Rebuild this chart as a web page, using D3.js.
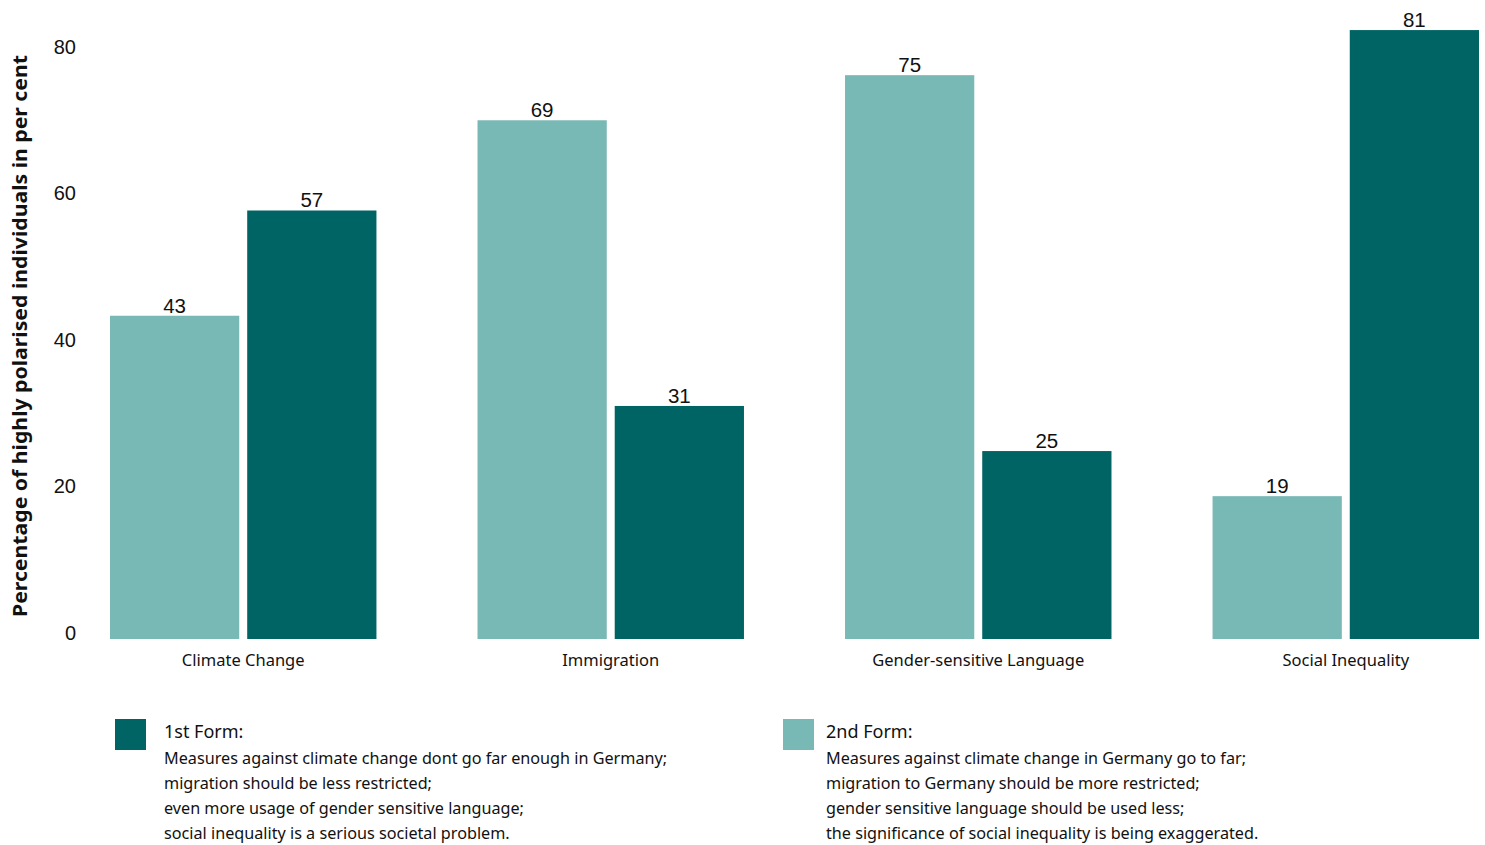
<!DOCTYPE html>
<html><head><meta charset="utf-8">
<script src="https://cdn.jsdelivr.net/npm/d3@7"></script>
<style>body{margin:0;background:#fff}</style>
</head><body>
<svg id="c" width="1485" height="845"></svg>
<script>
const categories = ["Climate Change","Immigration","Gender-sensitive Language","Social Inequality"];
const series = ["2nd Form","1st Form"];
const secondForm = [43, 69, 75, 19];
const firstForm = [57, 31, 25, 81];
const yTicks = [0, 20, 40, 60, 80];
const yTitle = "Percentage of highly polarised individuals in per cent";
const legendTitles = ["1st Form:", "2nd Form:"];
const legendFirst = ["Measures against climate change dont go far enough in Germany;","migration should be less restricted;","even more usage of gender sensitive language;","social inequality is a serious societal problem."];
const legendSecond = ["Measures against climate change in Germany go to far;","migration to Germany should be more restricted;","gender sensitive language should be used less;","the significance of social inequality is being exaggerated."];

const colors = {"2nd Form":"#78b8b5","1st Form":"#006464"};
const svg = d3.select("#c");
const baseY = 639;
const y = d3.scaleLinear().domain([0, 85]).range([baseY, 0]);
const yLab = d3.scaleLinear().domain([0, 80]).range([633, 47]);
const x0 = d3.scaleBand().domain(categories).range([110, 1479]).paddingInner(0.275).paddingOuter(0);
const x1 = d3.scaleBand().domain(series).range([0, x0.bandwidth()]).paddingInner(0.058);

const data = categories.map((c,i)=>({cat:c, vals:[{s:"2nd Form", v:secondForm[i]},{s:"1st Form", v:firstForm[i]}]}));
const g = svg.selectAll("g.grp").data(data).join("g").attr("transform", d=>`translate(${x0(d.cat)},0)`);
g.selectAll("rect").data(d=>d.vals).join("rect")
  .attr("x", d=>x1(d.s)).attr("width", x1.bandwidth())
  .attr("y", d=>y(d.v)).attr("height", d=>baseY - y(d.v))
  .attr("fill", d=>colors[d.s]);
g.selectAll("text.val").data(d=>d.vals).join("text").attr("class","val")
  .attr("x", d=>x1(d.s)+x1.bandwidth()/2).attr("y", d=>y(d.v)-3)
  .attr("text-anchor","middle").attr("font-family","Liberation Sans, Arial, sans-serif")
  .attr("font-size", 20.5).attr("fill","#111").text(d=>d.v);

// y tick labels
const ya = svg.append("g").attr("transform","translate(76,0)")
  .call(d3.axisLeft(yLab).tickValues(yTicks).tickSize(0).tickPadding(0));
ya.select(".domain").remove();
ya.selectAll("text").attr("font-family","Liberation Sans, Arial, sans-serif").attr("font-size",20).attr("fill","#111");

// x labels
const xa = svg.append("g").attr("transform",`translate(0,${baseY})`)
  .call(d3.axisBottom(x0).tickSize(0).tickPadding(15));
xa.select(".domain").remove();
xa.selectAll("text").attr("font-family","Noto Sans, sans-serif").attr("font-size",16.5).attr("fill","#111");

// y title
svg.append("text").attr("transform","translate(27,336) rotate(-90)")
  .attr("text-anchor","middle").attr("font-family","Noto Sans, sans-serif").attr("font-weight","bold")
  .attr("font-size",20).attr("fill","#111")
  .attr("textLength",562).attr("lengthAdjust","spacingAndGlyphs").text(yTitle);

// legend
const legends = [
  {x:115, tx:49, color:colors["1st Form"], title:legendTitles[0], lines:legendFirst},
  {x:783, tx:43, color:colors["2nd Form"], title:legendTitles[1], lines:legendSecond}
];
legends.forEach(L=>{
  const lg = svg.append("g").attr("transform",`translate(${L.x},719)`);
  lg.append("rect").attr("width",31).attr("height",31).attr("fill",L.color);
  lg.append("text").attr("x",L.tx).attr("y",19).attr("font-family","Noto Sans, sans-serif")
    .attr("font-size",18).attr("fill","#111").text(L.title);
  lg.selectAll("text.l").data(L.lines).join("text").attr("class","l")
    .attr("x",L.tx).attr("y",(d,i)=>45+i*25).attr("font-family","Noto Sans, sans-serif")
    .attr("font-size",16.2).attr("fill","#111").text(d=>d);
});
</script>
</body></html>
